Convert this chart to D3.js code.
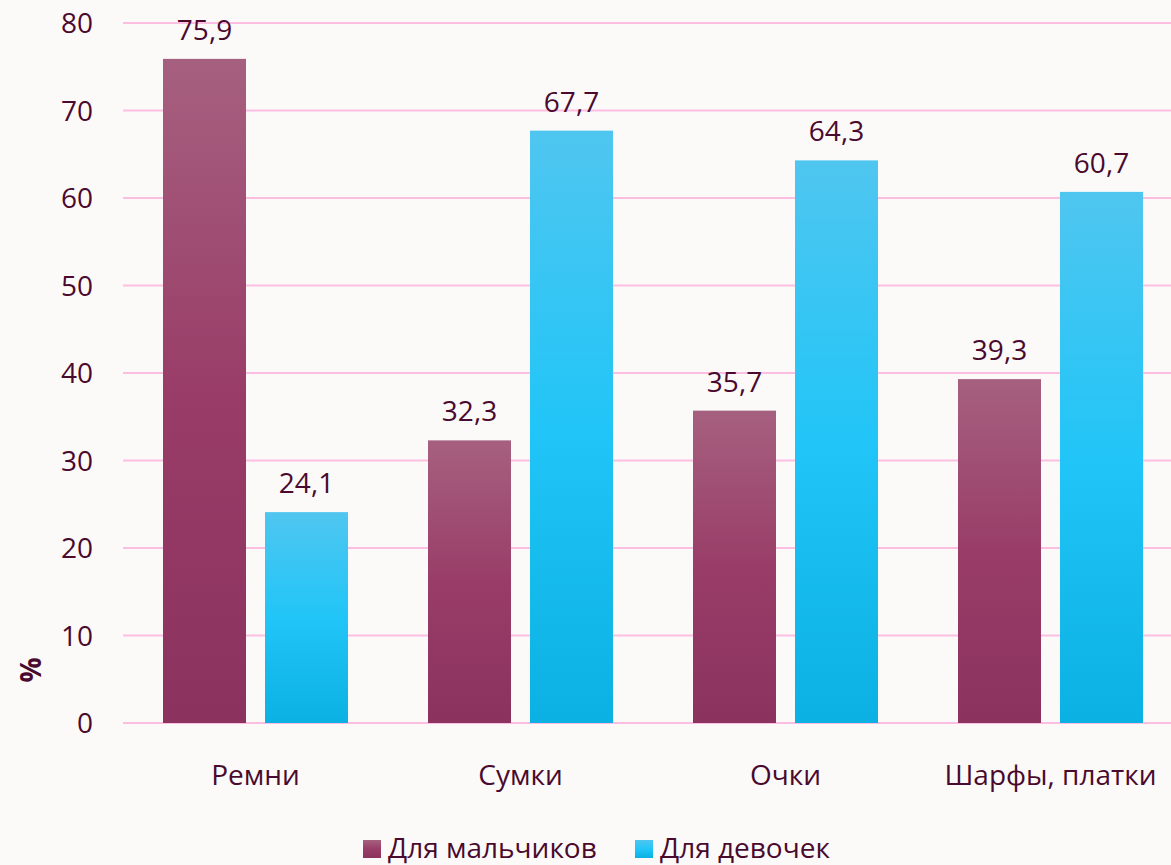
<!DOCTYPE html>
<html><head><meta charset="utf-8">
<script src="https://cdn.jsdelivr.net/npm/d3@7"></script>
<style>body{margin:0;background:#fcfaf9;}svg{display:block;}</style>
</head><body>
<script>
const categories = ["Ремни", "Сумки", "Очки", "Шарфы, платки"];
const seriesNames = ["Для мальчиков", "Для девочек"];
const boys = [75.9, 32.3, 35.7, 39.3];
const girls = [24.1, 67.7, 64.3, 60.7];
const yTicks = [0, 10, 20, 30, 40, 50, 60, 70, 80];

(function () {
const W = 1171, H = 865;
const svg = d3.select("body").append("svg").attr("width", W).attr("height", H);
svg.append("rect").attr("width", W).attr("height", H).attr("fill", "#fcfaf9");
const defs = svg.append("defs");
const g1 = defs.append("linearGradient").attr("id", "gb").attr("x1",0).attr("y1",0).attr("x2",0).attr("y2",1);
g1.append("stop").attr("offset","0%").attr("stop-color","#a6607f");
g1.append("stop").attr("offset","50%").attr("stop-color","#993d68");
g1.append("stop").attr("offset","100%").attr("stop-color","#8b325e");
const g2 = defs.append("linearGradient").attr("id", "gg").attr("x1",0).attr("y1",0).attr("x2",0).attr("y2",1);
g2.append("stop").attr("offset","0%").attr("stop-color","#4fc6f0");
g2.append("stop").attr("offset","50%").attr("stop-color","#21c5f7");
g2.append("stop").attr("offset","100%").attr("stop-color","#0bb1e2");

const pLeft = 123, pRight = 1183, pTop = 23, pBottom = 723;
const x = d3.scaleBand().domain(categories).range([pLeft, pRight]);
const y = d3.scaleLinear().domain([0, 80]).range([pBottom, pTop]);
const textColor = "#4a0a2e";
const font = "'Open Sans', 'Noto Sans', sans-serif";
const fs = 28;

svg.append("g").selectAll("line").data(yTicks).join("line")
  .attr("x1", pLeft).attr("x2", 1171)
  .attr("y1", d => y(d)).attr("y2", d => y(d))
  .attr("stroke", "#fdbfe1").attr("stroke-width", 2);

svg.append("g").selectAll("text").data(yTicks).join("text")
  .attr("x", 93).attr("y", d => y(d)).attr("dy", "0.36em")
  .attr("text-anchor", "end").attr("fill", textColor)
  .attr("font-family", font).attr("font-size", fs).text(d => d);

const bw = 83, gap = 19;
const inner = x.bandwidth();
const off0 = (inner - (2*bw + gap))/2;
const series = [{vals: boys, fill: "url(#gb)", o: off0}, {vals: girls, fill: "url(#gg)", o: off0 + bw + gap}];
series.forEach(s => {
  svg.append("g").selectAll("rect").data(categories).join("rect")
    .attr("x", (c) => x(c) + s.o).attr("width", bw)
    .attr("y", (c, i) => y(s.vals[i])).attr("height", (c, i) => pBottom - y(s.vals[i]))
    .attr("fill", s.fill);
  svg.append("g").selectAll("text").data(categories).join("text")
    .attr("x", (c) => x(c) + s.o + bw/2).attr("y", (c, i) => y(s.vals[i]) - 19)
    .attr("text-anchor", "middle").attr("fill", textColor)
    .attr("font-family", font).attr("font-size", fs)
    .text((c, i) => String(s.vals[i]).replace(".", ","));
});

svg.append("g").selectAll("text").data(categories).join("text")
  .attr("x", c => x(c) + inner/2).attr("y", 785)
  .attr("text-anchor", "middle").attr("fill", textColor)
  .attr("font-family", font).attr("font-size", fs).text(c => c);

svg.append("text").attr("transform", "translate(41,670) rotate(-90)")
  .attr("text-anchor", "middle").attr("fill", textColor)
  .attr("font-family", font).attr("font-size", fs).attr("font-weight", "bold").text("%");

const legX = [363, 635];
const legFill = ["url(#gb)", "url(#gg)"];
seriesNames.forEach((n, i) => {
  svg.append("rect").attr("x", legX[i]).attr("y", 840).attr("width", 18).attr("height", 18).attr("fill", legFill[i]);
  svg.append("text").attr("x", legX[i] + 25).attr("y", 858).attr("fill", textColor)
    .attr("font-family", font).attr("font-size", fs).text(n);
});
})();
</script>
</body></html>
